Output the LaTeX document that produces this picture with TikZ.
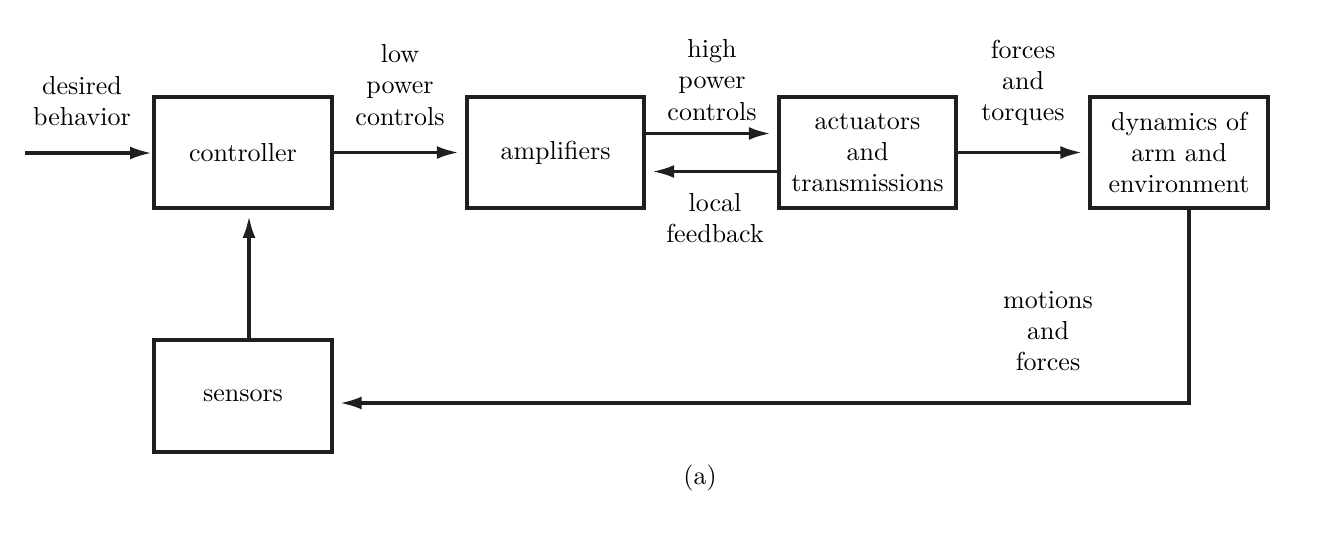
\documentclass[tikz,border=0pt]{standalone}
\usetikzlibrary{arrows.meta,calc}
\begin{document}
\begin{tikzpicture}[x=0.3846pt,y=-0.3846pt,
  blk/.style={draw=black!88,line width=1.5pt,minimum width=68.4pt,minimum height=42.8pt,align=center,inner sep=0pt},
  lbl/.style={align=center,inner sep=0pt},
  arr/.style={line width=1.35pt,draw=black!88,-{Latex[length=8.5pt,width=5pt]}},
  gap/.style={shorten >=2.2pt}]
\useasboundingbox (0,0) rectangle (1320,544);
% blocks
\node[blk] (ctrl) at (243,152.5) {controller};
\node[blk] (amp) at (555.5,152.5) {amplifiers};
\node[blk] (act) at (867.5,152.5) {actuators\\and\\transmissions};
\node[blk] (dyn) at (1179,152.5) {dynamics of\\arm and\\environment};
\node[blk] (sens) at (243,396) {sensors};
% labels
\node[lbl] (ldes) at (82,101) {desired\\behavior};
\node[lbl] (llow) at (400,85) {low\\power\\controls};
\node[lbl] (lhigh) at (712,80) {high\\power\\controls};
\node[lbl] (lloc) at (715,218) {local\\feedback};
\node[lbl] (lfor) at (1023,83) {forces\\and\\torques};
\node[lbl] (lmot) at (1048,331) {motions\\and\\forces};
\node[lbl] (cap) at (700,478) {(a)};
% connectors
\coordinate (in) at (25,153);
\draw[arr] (in) -- (in -| ctrl.west);
\draw[arr,gap] (ctrl.east) -- (amp.west);
\draw[arr,gap] ($(amp.east)+(0,-19)$) -- ($(act.west)+(0,-19)$);
\draw[arr,gap] ($(act.west)+(0,19)$) -- ($(amp.east)+(0,19)$);
\draw[arr,gap] (act.east) -- (dyn.west);
\draw[arr,gap] ($(sens.north)+(6,0)$) -- ($(ctrl.south)+(6,0)$);
\draw[arr,gap] ($(dyn.south)+(10,0)$) |- ($(sens.east)+(0,7)$);
\end{tikzpicture}
\end{document}
